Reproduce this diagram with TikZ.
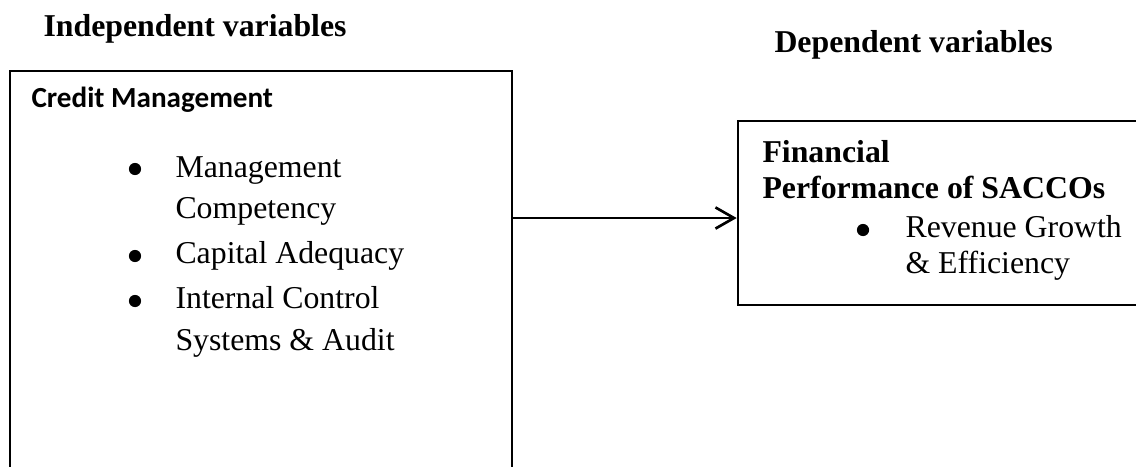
\documentclass[tikz,border=0pt]{standalone}
\usepackage{fontspec}
\setmainfont{Liberation Serif}
\newfontfamily\carlito{Carlito}
\usetikzlibrary{arrows.meta}
\usetikzlibrary{fit}

\tikzset{
 lbl/.style={inner sep=0pt, anchor=base west, font=\fontsize{12}{14}\selectfont},
 hdr/.style={lbl, font=\fontsize{12}{14}\selectfont\bfseries},
 dot/.style={circle, fill=black, inner sep=0pt, minimum size=4.6pt},
 box/.style={rectangle, draw=black, inner sep=0pt, anchor=center}
}

\begin{document}
\begin{tikzpicture}[x=0.3774pt, y=-0.3774pt]
 \useasboundingbox (0,0) rectangle (1136,466);
 \clip (0,0) rectangle (1136,466);
 \node [hdr] (IV) at (43, 36) {Independent variables};
 \node [hdr] (DV) at (774, 52) {Dependent variables};
 \node [box, line width=0.6pt, fit={(10,71) (512,520)}] (CM) {};
 \node [box, line width=1pt, fit={(738,121) (1180,305)}] (FP) {};
 \node [lbl, font=\fontsize{11}{13}\selectfont\carlito\bfseries] (T1) at (31, 107) {Credit Management};
 \node [dot] (B1) at (135, 169) {};
 \node [lbl] (M1) at (175, 177) {Management};
 \node [lbl] (M2) at (175, 218) {Competency};
 \node [dot] (B2) at (135, 256) {};
 \node [lbl] (C1) at (175, 263) {Capital Adequacy};
 \node [dot] (B3) at (135, 301) {};
 \node [lbl] (I1) at (175, 308) {Internal Control};
 \node [lbl] (I2) at (175, 350) {Systems \& Audit};
 \node [hdr] (T2) at (762, 162) {Financial};
 \node [hdr] (T3) at (762, 198) {Performance of SACCOs};
 \node [dot] (B4) at (863, 230) {};
 \node [lbl] (R1) at (905, 237) {Revenue Growth};
 \node [lbl] (R2) at (905, 273) {\& Efficiency};
 \coordinate (AY) at (0, 218);
 \draw [-{Straight Barb[length=7pt, width=8pt]}, line width=1pt] (CM.east |- AY) -- (FP.west |- AY);
\end{tikzpicture}
\end{document}
